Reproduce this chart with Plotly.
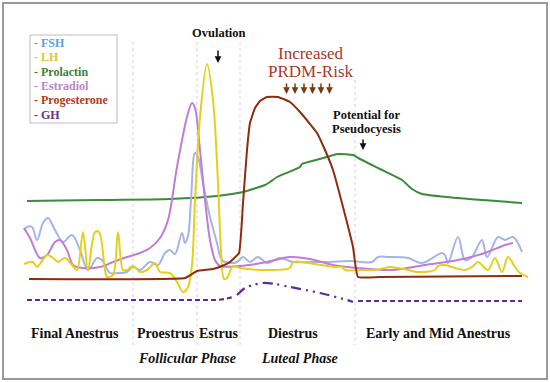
import plotly.graph_objects as go

# ---------------- data (x: cycle progress 0-100, y: relative hormone level) ----------------
fsh_x = [-0.2, 0.4, 1.4, 2.4, 3.6, 4.6, 6, 7.6, 9.4, 11, 12.6, 14.4, 15.4, 17, 18.6, 20.4, 21.6, 23, 25,
         26.6, 28, 29, 30, 31.4, 32, 32.6, 33.2, 34, 34.6, 35.6, 37, 38.4, 39.4, 41, 42.4, 43.6, 45, 46.6,
         48.4, 51, 53.6, 57, 60.4, 65, 69.4, 70.6, 72.6, 76.6, 79.4, 83.4, 84, 84.6, 86.6, 88, 89.4, 91.4,
         92.4, 94.6, 96, 97.6, 99.4]
fsh_y = [30, 31.5, 31.5, 25, 33.5, 36, 30, 24, 27.5, 20, 10, 16, 15, 8.5, 8.5, 9, 11.5, 10, 14,
         12.5, 18.5, 20, 18, 28.5, 23.5, 27, 45, 68.5, 66.5, 53.5, 36.5, 23.5, 15, 13.5, 14, 16.5, 14, 16.5,
         13.5, 16, 14, 14, 14, 14.5, 14, 16.5, 16.5, 16, 13.5, 18.5, 17.5, 13.5, 26.5, 15, 16.5, 25,
         16.5, 26.5, 25, 26.5, 19]

lh_x = [-0.2, 1.6, 2.4, 4.4, 5.6, 6.6, 8, 9.4, 10.4, 11.6, 12.6, 14, 14.8, 16, 16.4, 17.6, 18.6, 19.6,
        20.4, 21.6, 23, 24.4, 26, 27, 29, 30.4, 31.6, 32.6, 33.4, 34, 35, 36.4, 37.6, 38.6, 39.2, 39.8,
        40.4, 41.6, 43, 48.4, 53, 53.6, 56.6, 62, 63.4, 64, 67.4, 70, 73, 74.6, 76.6, 78.6, 82, 82.6, 84,
        86, 88, 89.4, 90.6, 92.6, 94, 95.4, 96.6, 98, 99, 100.6]
lh_y = [13, 14, 11.5, 17.5, 16, 14, 16, 12.5, 10, 29, 10, 29, 29, 10, 6.5, 7.5, 29, 10,
        10, 12, 9, 10, 13.5, 9, 8.5, 4, -1, 1.5, 12.5, 45, 86.5, 113, 95, 53.5, 20, 5.5,
        6, 12, 11, 10, 11, 14, 13.5, 11.5, 11.5, 10, 10, 10, 11.5, 11, 10, 9, 10, 12, 12.5,
        11, 10, 11.5, 14, 10, 16, 9, 16.5, 11.5, 8.5, 6.5]

prolactin_x = [0.4, 7, 15, 29, 38.4, 43.6, 48, 49, 50.4, 55, 55.4, 59, 62.6, 65.6, 67, 71, 75.4, 77.4,
               79.4, 86.6, 99.4]
prolactin_y = [44.5, 44.75, 45, 45.5, 47, 49, 52.5, 54, 56.5, 61.5, 63, 65.5, 68, 67.5, 65.5, 60.5, 55,
               50.5, 48, 46, 43.5]

estradiol_x = [-0.2, 1, 3, 4.4, 6, 7, 8.4, 9.6, 11.6, 15, 17.6, 20.4, 23, 25, 27, 28.6, 30.4, 32.4, 33.4,
               34, 35, 36, 37, 38, 39, 43, 48.4, 53, 57, 61.6, 66.4, 73.4, 80, 86.6, 92, 96, 97.6]
estradiol_y = [31, 26, 16, 17.5, 24, 25, 20, 12.5, 11, 11.5, 14, 16.5, 18.5, 21, 26, 35, 61.5, 86.5, 93.5,
               91, 70, 45, 25, 15, 12, 12, 14, 16.5, 15.5, 12.5, 11, 10, 12.5, 15, 18.5, 22.5, 23.5]

progesterone_x = [0.8, 32, 33.4, 34.4, 37.6, 39.4, 41, 42.8, 43.6, 44.4, 45, 46, 47, 48.4, 50.6, 53, 55,
                  57, 58.4, 60, 61.6, 63.6, 65.6, 66.6, 71, 99.4]
progesterone_y = [5.5, 6, 8, 9.5, 10.5, 12, 14, 18.5, 43.5, 70, 83.5, 91, 94.5, 96.5, 96.5, 94, 89,
                  83, 78.5, 70, 60, 41.5, 21.5, 6.5, 6.5, 7]

gh_low_left_x = [0.4, 38.4, 40, 41.6]
gh_low_left_y = [-5, -5, -4.5, -3.5]
gh_mid_x = [42.4, 44, 45.6, 47.6, 50, 53, 59, 64.4, 65.6]
gh_mid_y = [-2.5, 1, 2.5, 3.5, 3, 1.5, -1.5, -5, -6]
gh_low_right_x = [66.6, 99.4]
gh_low_right_y = [-5.5, -5.5]

phase_boundaries = [21.6, 34.4, 43, 66]
phase_labels = ["Final Anestrus", "Proestrus", "Estrus", "Diestrus", "Early and Mid Anestrus"]
phase_groups = ["Follicular Phase", "Luteal Phase"]
legend_names = ["FSH", "LH", "Prolactin", "Estradiol", "Progesterone", "GH"]

# ---------------- styling ----------------
SERIF = "Liberation Serif"
line_colors = {"FSH": "#A3B6E8", "LH": "#E6CF1C", "Prolactin": "#3C8A3C",
               "Estradiol": "#C27CD2", "Progesterone": "#8E2C0E", "GH": "#5B2D9B"}
text_colors = {"FSH": "#5A9FE0", "LH": "#E0C430", "Prolactin": "#3D7F3D",
               "Estradiol": "#BC86CC", "Progesterone": "#B3391C", "GH": "#5A3592"}

fig = go.Figure()


def add_line(x, y, name, dash="solid", width=2.0, smoothing=1.0, shape="spline"):
    fig.add_trace(go.Scatter(x=x, y=y, mode="lines", name=name, showlegend=False, hoverinfo="skip",
                             line=dict(color=line_colors[name], width=width, dash=dash,
                                       shape=shape, smoothing=smoothing if shape == "spline" else None)))


add_line(gh_low_left_x, gh_low_left_y, "GH", dash="5px,3px", width=2.2, shape="linear")
add_line(gh_mid_x, gh_mid_y, "GH", dash="10px,5px,2px,5px,2px,5px", width=2.2, smoothing=0.8)
add_line(gh_low_right_x, gh_low_right_y, "GH", dash="5px,3px", width=2.2, shape="linear")
add_line(prolactin_x, prolactin_y, "Prolactin", smoothing=0.5)
add_line(fsh_x, fsh_y, "FSH", smoothing=1.0)
add_line(estradiol_x, estradiol_y, "Estradiol", smoothing=0.9)
add_line(lh_x, lh_y, "LH", smoothing=0.9)
add_line(progesterone_x, progesterone_y, "Progesterone", smoothing=0.35)

shapes = []
for i, xb in enumerate(phase_boundaries):
    shapes.append(dict(type="line", xref="x", yref="y", x0=xb, x1=xb,
                       y0=(105 if i == 3 else 124), y1=-27.5,
                       line=dict(color="#D4D4D4", width=1, dash="3px,3px"), layer="below"))
# legend box
shapes.append(dict(type="rect", xref="x", yref="y", x0=1, x1=18.4, y0=83.5, y1=127.5,
                   line=dict(color="#BBBBBB", width=1), fillcolor="rgba(0,0,0,0)"))
# outer frame
shapes.append(dict(type="rect", xref="paper", yref="paper", x0=3 / 550, x1=547 / 550,
                   y0=1 - 379 / 382, y1=1 - 3 / 382, line=dict(color="#9A9A9A", width=2)))

ann = []
# legend entries
for i, nm in enumerate(legend_names):
    ann.append(dict(x=1.4, y=123.5 - i * 7.15, xref="x", yref="y", xanchor="left", yanchor="middle",
                    text="<b>- " + nm + "</b>", showarrow=False,
                    font=dict(family=SERIF, size=12, color=text_colors[nm])))

phase_x = [9.9, 28.2, 38.6, 53.6, 82.7]
for lbl, px in zip(phase_labels, phase_x):
    ann.append(dict(x=px, y=-21.5, xref="x", yref="y", text="<b>" + lbl + "</b>", showarrow=False,
                    font=dict(family=SERIF, size=14, color="#111111")))
group_x = [32.4, 54.8]
for lbl, px in zip(phase_groups, group_x):
    ann.append(dict(x=px, y=-34, xref="x", yref="y", text="<b><i>" + lbl + "</i></b>", showarrow=False,
                    font=dict(family=SERIF, size=14, color="#111111")))

ann.append(dict(x=38.8, y=128.5, xref="x", yref="y", text="<b>Ovulation</b>", showarrow=False,
                font=dict(family=SERIF, size=12.5, color="#111111")))
ann.append(dict(x=38.6, y=113.5, ax=0, ay=-14, xref="x", yref="y", text="", showarrow=True,
                arrowhead=2, arrowsize=0.9, arrowwidth=1.5, arrowcolor="#111111"))

ann.append(dict(x=57.2, y=118.5, xref="x", yref="y", text="Increased", showarrow=False,
                font=dict(family=SERIF, size=17, color="#A8372A")))
ann.append(dict(x=57.2, y=109.5, xref="x", yref="y", text="PRDM-Risk", showarrow=False,
                font=dict(family=SERIF, size=17, color="#A8372A")))
for ax_ in [52.3, 54.0, 55.8, 57.5, 59.2, 60.9]:
    ann.append(dict(x=ax_, y=98, ax=0, ay=-12, xref="x", yref="y", text="", showarrow=True,
                    arrowhead=2, arrowsize=0.9, arrowwidth=1.5, arrowcolor="#7A3A12"))

ann.append(dict(x=68.2, y=87.5, xref="x", yref="y", text="<b>Potential for</b>", showarrow=False,
                font=dict(family=SERIF, size=12.5, color="#111111")))
ann.append(dict(x=68.2, y=80.5, xref="x", yref="y", text="<b>Pseudocyesis</b>", showarrow=False,
                font=dict(family=SERIF, size=12.5, color="#111111")))
ann.append(dict(x=67.6, y=70, ax=0, ay=-12, xref="x", yref="y", text="", showarrow=True,
                arrowhead=2, arrowsize=0.9, arrowwidth=1.5, arrowcolor="#111111"))

fig.update_layout(
    width=550, height=382, margin=dict(l=0, r=0, t=0, b=0),
    paper_bgcolor="white", plot_bgcolor="white", showlegend=False,
    font=dict(family=SERIF),
    xaxis=dict(range=[-5, 105], visible=False, fixedrange=True),
    yaxis=dict(range=[-46, 145], visible=False, fixedrange=True),
    shapes=shapes, annotations=ann,
)

fig.write_html("out.html", post_script="document.body.style.margin='0px';",
               config={"displayModeBar": False})
